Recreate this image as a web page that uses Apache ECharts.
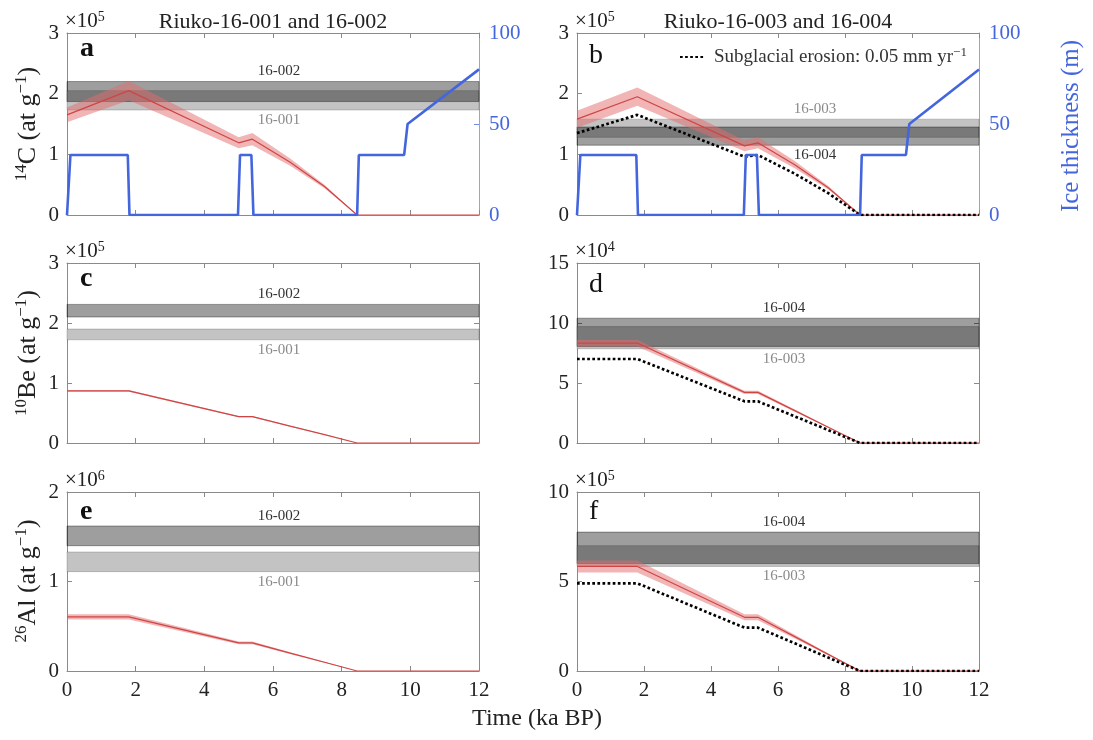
<!DOCTYPE html>
<html><head><meta charset="utf-8">
<script src="https://cdn.jsdelivr.net/npm/echarts@6/dist/echarts.min.js"></script>
<style>html,body{margin:0;padding:0;background:#fff}#c{width:1093px;height:740px}</style>
</head><body><div id="c"></div>
<script>
const FONT = '"Liberation Serif","DejaVu Serif","Times New Roman",serif';

// ---------------- data ----------------
const timeTickLabels = ['0', '2', '4', '6', '8', '10', '12'];
const tModel = [0, 1.8, 5.0, 5.4, 6.5, 7.5, 8.45, 12];   // ka BP

// panel a: 14C, Riuko-16-001/002 (x10^5 at/g)
const c14_A_line = [1.65, 2.05, 1.19, 1.25, 0.87, 0.47, 0, 0];
const c14_A_lo   = [1.53, 1.89, 1.10, 1.15, 0.81, 0.44, 0, 0];
const c14_A_hi   = [1.77, 2.21, 1.28, 1.35, 0.93, 0.50, 0, 0];
// panel b: 14C, Riuko-16-003/004 (x10^5 at/g)
const c14_B_line = [1.58, 1.95, 1.14, 1.19, 0.83, 0.45, 0, 0];
const c14_B_lo   = [1.44, 1.80, 1.05, 1.10, 0.77, 0.42, 0, 0];
const c14_B_hi   = [1.72, 2.10, 1.23, 1.28, 0.89, 0.48, 0, 0];
const c14_B_eros = [1.35, 1.65, 0.96, 0.99, 0.68, 0.36, 0, 0];
// panel c: 10Be, 16-001/002 (x10^5)
const be10_C_line = [0.87, 0.87, 0.44, 0.44, 0.28, 0.14, 0, 0];
const be10_C_lo   = [0.855, 0.855, 0.43, 0.43, 0.272, 0.136, 0, 0];
const be10_C_hi   = [0.885, 0.885, 0.45, 0.45, 0.288, 0.144, 0, 0];
// panel d: 10Be, 16-003/004 (x10^4)
const be10_D_line = [8.33, 8.33, 4.22, 4.22, 2.70, 1.31, 0, 0];
const be10_D_lo   = [8.05, 8.05, 4.08, 4.08, 2.61, 1.27, 0, 0];
const be10_D_hi   = [8.60, 8.60, 4.36, 4.36, 2.79, 1.35, 0, 0];
const be10_D_eros = [7.0, 7.0, 3.47, 3.47, 2.22, 1.08, 0, 0];
// panel e: 26Al, 16-001/002 (x10^6)
const al26_E_line = [0.605, 0.605, 0.315, 0.315, 0.20, 0.098, 0, 0];
const al26_E_lo   = [0.575, 0.575, 0.30, 0.30, 0.19, 0.093, 0, 0];
const al26_E_hi   = [0.635, 0.635, 0.33, 0.33, 0.21, 0.103, 0, 0];
// panel f: 26Al, 16-003/004 (x10^5)
const al26_F_line = [5.84, 5.84, 3.0, 3.0, 1.92, 0.93, 0, 0];
const al26_F_lo   = [5.50, 5.50, 2.83, 2.83, 1.81, 0.88, 0, 0];
const al26_F_hi   = [6.18, 6.18, 3.17, 3.17, 2.03, 0.98, 0, 0];
const al26_F_eros = [4.9, 4.9, 2.42, 2.42, 1.55, 0.75, 0, 0];

// ice thickness (m)
const iceTime  = [0, 0.1, 1.77, 1.82, 4.98, 5.04, 5.37, 5.43, 8.45, 8.5, 9.82, 9.92, 12];
const iceThick = [0, 33, 33, 0, 0, 33, 33, 0, 0, 33, 33, 50, 80];
const iceTicks = [0, 50, 100];

// measured concentration bands [low, high]
const band14C_002 = [1.87, 2.20], band14C_001 = [1.73, 2.05];
const band14C_003 = [1.28, 1.58], band14C_004 = [1.15, 1.45];
const band10Be_002 = [2.10, 2.31], band10Be_001 = [1.72, 1.90];
const band10Be_004 = [8.05, 10.4], band10Be_003 = [7.85, 9.70];
const band26Al_002 = [1.40, 1.62], band26Al_001 = [1.11, 1.33];
const band26Al_004 = [6.00, 7.76], band26Al_003 = [5.84, 7.00];

const erosionName = 'Subglacial erosion: 0.05 mm yr−1';

// ---------------- panel definitions ----------------
const panels = [
  {letter: 'a', col: 0, row: 0, yMax: 3, yInt: 1, exp: '5', line: c14_A_line, lo: c14_A_lo, hi: c14_A_hi, eros: null, ice: true,
   upper: {name: '16-002', range: band14C_002, shade: 'medium'}, lower: {name: '16-001', range: band14C_001, shade: 'light'}, labOff: 6},
  {letter: 'b', col: 1, row: 0, yMax: 3, yInt: 1, exp: '5', line: c14_B_line, lo: c14_B_lo, hi: c14_B_hi, eros: c14_B_eros, ice: true,
   upper: {name: '16-003', range: band14C_003, shade: 'light'}, lower: {name: '16-004', range: band14C_004, shade: 'medium'}, labOff: 37},
  {letter: 'c', col: 0, row: 1, yMax: 3, yInt: 1, exp: '5', line: be10_C_line, lo: be10_C_lo, hi: be10_C_hi, eros: null, ice: false,
   upper: {name: '16-002', range: band10Be_002, shade: 'medium'}, lower: {name: '16-001', range: band10Be_001, shade: 'light'}, labOff: 6},
  {letter: 'd', col: 1, row: 1, yMax: 15, yInt: 5, exp: '4', line: be10_D_line, lo: be10_D_lo, hi: be10_D_hi, eros: be10_D_eros, ice: false,
   upper: {name: '16-004', range: band10Be_004, shade: 'medium'}, lower: {name: '16-003', range: band10Be_003, shade: 'light'}, labOff: 6},
  {letter: 'e', col: 0, row: 2, yMax: 2, yInt: 1, exp: '6', line: al26_E_line, lo: al26_E_lo, hi: al26_E_hi, eros: null, ice: false,
   upper: {name: '16-002', range: band26Al_002, shade: 'medium'}, lower: {name: '16-001', range: band26Al_001, shade: 'light'}, labOff: 6},
  {letter: 'f', col: 1, row: 2, yMax: 10, yInt: 5, exp: '5', line: al26_F_line, lo: al26_F_lo, hi: al26_F_hi, eros: al26_F_eros, ice: false,
   upper: {name: '16-004', range: band26Al_004, shade: 'medium'}, lower: {name: '16-003', range: band26Al_003, shade: 'light'}, labOff: 6}
];

// ---------------- layout ----------------
const colLeft = [67, 577], colWidth = [412, 402];
const rowTop = [33, 263, 492], rowHeight = [182, 180, 179];
const letterY = [[49, 56], [279, 285], [512, 512]];
const AX = '#8a8a8a';
const BLUE = '#4466dd';

const grids = [], xAxes = [], yAxes = [], series = [], graphics = [];

function xAxis(gi, pos, labels) {
  return {gridIndex: gi, type: 'value', min: 0, max: 12, interval: 2, position: pos,
    axisLine: {show: true, onZero: false, lineStyle: {color: AX, width: 1}},
    axisTick: {show: true, inside: true, length: 5, lineStyle: {color: AX}},
    axisLabel: {show: labels, fontFamily: FONT, fontSize: 21, color: '#222', margin: 9,
      formatter: v => timeTickLabels[Math.round(v / 2)]},
    splitLine: {show: false}};
}

function bandItem(b, pos, off) {
  const light = b.shade === 'light';
  return [{
    yAxis: b.range[0], xAxis: 0,
    itemStyle: {color: light ? '#c3c3c3' : 'rgba(0,0,0,0.38)', opacity: 1,
      borderColor: light ? 'rgba(0,0,0,0.18)' : 'rgba(0,0,0,0.35)', borderWidth: 1},
    label: {show: true, position: pos, distance: 2, offset: [off, 0], formatter: b.name,
      fontFamily: FONT, fontSize: 15, color: light ? '#8a8a8a' : '#333'}
  }, {yAxis: b.range[1], xAxis: 12}];
}

panels.forEach((p, gi) => {
  grids.push({left: colLeft[p.col], top: rowTop[p.row], width: colWidth[p.col], height: rowHeight[p.row], containLabel: false});
  xAxes.push(xAxis(gi, 'bottom', p.row === 2));
  xAxes.push(xAxis(gi, 'top', false));
  yAxes.push({gridIndex: gi, type: 'value', min: 0, max: p.yMax, interval: p.yInt, position: 'left',
    axisLine: {show: true, onZero: false, lineStyle: {color: AX}},
    axisTick: {show: true, inside: true, length: 5, lineStyle: {color: AX}},
    axisLabel: {fontFamily: FONT, fontSize: 21, color: '#222', margin: 8},
    splitLine: {show: false}});
  if (p.ice) {
    yAxes.push({gridIndex: gi, type: 'value', min: 0, max: 100, interval: 50, position: 'right',
      axisLine: {show: true, onZero: false, lineStyle: {color: '#8fa2f2'}},
      axisTick: {show: true, inside: true, length: 5, lineStyle: {color: '#6f88ee'}},
      axisLabel: {fontFamily: FONT, fontSize: 21, color: BLUE, margin: 10,
        formatter: v => String(iceTicks[Math.round(v / 50)])},
      splitLine: {show: false}});
  } else {
    yAxes.push({gridIndex: gi, type: 'value', min: 0, max: p.yMax, interval: p.yInt, position: 'right',
      axisLine: {show: true, onZero: false, lineStyle: {color: AX}},
      axisTick: {show: true, inside: true, length: 5, lineStyle: {color: AX}},
      axisLabel: {show: false}, splitLine: {show: false}});
  }
  const xi = gi * 2, yi = gi * 2;
  const bands = p.upper.shade === 'light'
    ? [bandItem(p.upper, 'top', p.labOff), bandItem(p.lower, 'bottom', p.labOff)]
    : [bandItem(p.lower, 'bottom', p.labOff), bandItem(p.upper, 'top', p.labOff)];
  // model uncertainty envelope (polygon through the axis scales)
  const lo = p.lo, hi = p.hi;
  series.push({type: 'custom', xAxisIndex: xi, yAxisIndex: yi, silent: true, z: 3,
    data: [[0, 0]],
    renderItem: (params, api) => {
      const pts = [];
      tModel.forEach((t, i) => pts.push(api.coord([t, hi[i]])));
      for (let i = tModel.length - 1; i >= 0; i--) pts.push(api.coord([tModel[i], lo[i]]));
      return {type: 'polygon', shape: {points: pts, smooth: 0}, style: {fill: 'rgba(228,108,108,0.5)'}};
    }});
  series.push({type: 'line', xAxisIndex: xi, yAxisIndex: yi, symbol: 'none', silent: true,
    data: tModel.map((t, i) => [t, p.line[i]]), lineStyle: {color: '#cf4545', width: 1.2}, z: 4,
    markArea: {silent: true, z: 1, data: bands}});
  if (p.eros) {
    series.push({type: 'line', name: erosionName, xAxisIndex: xi, yAxisIndex: yi, symbol: 'none', showSymbol: false, silent: true,
      color: '#000', data: tModel.map((t, i) => [t, p.eros[i]]),
      lineStyle: {color: '#000', width: 2.7, type: [2.7, 2.4]}, z: 5});
  }
  if (p.ice) {
    series.push({type: 'line', xAxisIndex: xi, yAxisIndex: yi + 1, symbol: 'none', silent: true,
      data: iceTime.map((t, i) => [t, iceThick[i]]), lineStyle: {color: BLUE, width: 2.6}, z: 6});
  }
  // exponent label
  graphics.push({type: 'text', x: colLeft[p.col] - 2, y: rowTop[p.row] - 12,
    style: {text: '{m|×10}{s|' + p.exp + '}', align: 'left', verticalAlign: 'middle',
      rich: {m: {fontFamily: FONT, fontSize: 21, lineHeight: 22, fill: '#222'},
             s: {fontFamily: FONT, fontSize: 14, lineHeight: 13, verticalAlign: 'top', fill: '#222'}}}});
  // panel letter
  graphics.push({type: 'text', x: p.col === 0 ? 80 : 589, y: letterY[p.row][p.col],
    style: {text: p.letter, align: 'left', verticalAlign: 'middle', fontFamily: FONT, fontSize: 28,
      fontWeight: p.col === 0 ? 'bold' : 'normal', fill: '#111'}});
});

// titles
graphics.push({type: 'text', x: 273, y: 22, style: {text: 'Riuko-16-001 and 16-002', align: 'center', verticalAlign: 'middle', fontFamily: FONT, fontSize: 22, fill: '#222'}});
graphics.push({type: 'text', x: 778, y: 22, style: {text: 'Riuko-16-003 and 16-004', align: 'center', verticalAlign: 'middle', fontFamily: FONT, fontSize: 22, fill: '#222'}});

// axis names
const supRich = (col) => ({m: {fontFamily: FONT, fontSize: 26, lineHeight: 30, fill: col},
                           s: {fontFamily: FONT, fontSize: 17, lineHeight: 16, verticalAlign: 'top', fill: col}});
const yNames = [
  {text: '{s|14}{m|C (at g}{s|−1}{m|)}', y: 124},
  {text: '{s|10}{m|Be (at g}{s|−1}{m|)}', y: 353},
  {text: '{s|26}{m|Al (at g}{s|−1}{m|)}', y: 581}
];
yNames.forEach(n => graphics.push({type: 'text', x: 28, y: n.y, rotation: Math.PI / 2,
  style: {text: n.text, align: 'center', verticalAlign: 'middle', rich: supRich('#222')}}));
graphics.push({type: 'text', x: 1071, y: 126, rotation: Math.PI / 2,
  style: {text: 'Ice thickness (m)', align: 'center', verticalAlign: 'middle', fontFamily: FONT, fontSize: 25, fill: BLUE}});
graphics.push({type: 'text', x: 537, y: 719,
  style: {text: 'Time (ka BP)', align: 'center', verticalAlign: 'middle', fontFamily: FONT, fontSize: 24, fill: '#222'}});

const chart = echarts.init(document.getElementById('c'), null, {renderer: 'canvas'});
chart.setOption({
  animation: false,
  backgroundColor: '#fff',
  grid: grids, xAxis: xAxes, yAxis: yAxes, series: series,
  legend: {data: [erosionName], left: 679, top: 46, itemWidth: 24, itemHeight: 12, padding: 0,
    selectedMode: false, itemStyle: {opacity: 0},
    formatter: () => '{t|Subglacial erosion: 0.05 mm yr}{s|−1}',
    textStyle: {padding: [0, 0, 0, 5], rich: {
      t: {fontFamily: FONT, fontSize: 19, lineHeight: 22, color: '#333'},
      s: {fontFamily: FONT, fontSize: 13, lineHeight: 12, verticalAlign: 'top', color: '#333'}}}},
  graphic: graphics
});
</script></body></html>
